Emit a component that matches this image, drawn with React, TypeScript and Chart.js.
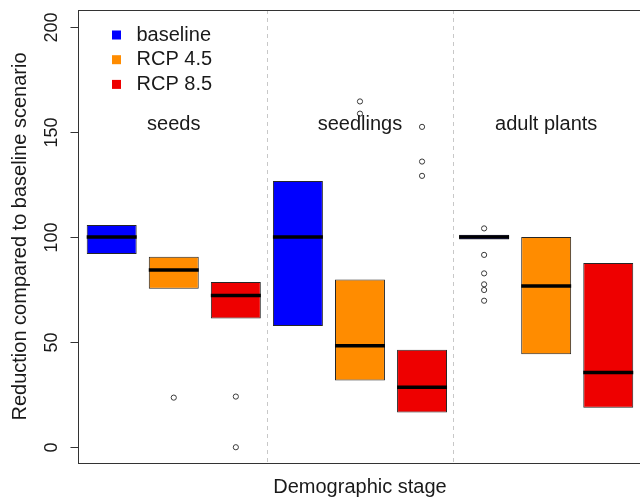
import React, { useEffect, useRef } from "react";
import { Chart, registerables } from "chart.js";

Chart.register(...registerables);

const stages = ["seeds", "seedlings", "adult plants"];
const scenarios = ["baseline", "RCP 4.5", "RCP 8.5"];
const scenarioColors = ["#0000ff", "#ff8c00", "#ee0000"];

// box positions (1..9) per scenario, one per stage
const posBaseline = [1, 4, 7];
const posRcp45 = [2, 5, 8];
const posRcp85 = [3, 6, 9];

// quartiles and medians per stage (seeds, seedlings, adult plants)
const q1Baseline = [91.9, 57.7, 98.8];
const medBaseline = [100, 100, 100];
const q3Baseline = [105.7, 126.7, 101.1];

const q1Rcp45 = [75.4, 31.7, 44.2];
const medRcp45 = [84.3, 48.3, 76.7];
const q3Rcp45 = [90.6, 79.8, 100];

const q1Rcp85 = [61.3, 16.5, 18.8];
const medRcp85 = [72.2, 28.5, 35.5];
const q3Rcp85 = [78.6, 46.4, 87.7];

// outliers per stage
const outBaseline = [[], [], [104.1, 91.5, 82.7, 77.5, 74.8, 69.7]];
const outRcp45 = [[23.6], [164.5, 158.7], []];
const outRcp85 = [[24.1, 0], [152.4, 135.9, 129.1], []];

const yTicks = [0, 50, 100, 150, 200];
const dividers = [3.5, 6.5];
const stageLabelPos = [2, 5, 8];
const stageLabelY = 151;
const xLimits = [0.449, 9.551];
const yLimits = [-7.5, 208];

const xTitle = "Demographic stage";
const yTitle = "Reduction compared to baseline scenario";

const FONT = '"Liberation Sans", Arial, Helvetica, sans-serif';

const groups = [
  { pos: posBaseline, q1: q1Baseline, med: medBaseline, q3: q3Baseline, out: outBaseline },
  { pos: posRcp45, q1: q1Rcp45, med: medRcp45, q3: q3Rcp45, out: outRcp45 },
  { pos: posRcp85, q1: q1Rcp85, med: medRcp85, q3: q3Rcp85, out: outRcp85 },
];

export default function App() {
  const ref = useRef<HTMLCanvasElement | null>(null);

  useEffect(() => {
    const canvas = ref.current;
    if (!canvas) return;

    const boxDatasets = groups.map((g, si) => ({
      type: "bar" as const,
      label: scenarios[si],
      data: g.pos.map((p, i) => ({ x: p, y: [g.q1[i], g.q3[i]] })),
      backgroundColor: scenarioColors[si],
      borderColor: "#262626",
      borderWidth: 1,
      borderSkipped: false,
      grouped: false,
      barPercentage: 1,
      categoryPercentage: 0.805,
      order: 2,
    }));

    const outlierDatasets = groups.map((g, si) => ({
      type: "scatter" as const,
      label: scenarios[si] + " outliers",
      data: g.pos.flatMap((p, i) => g.out[i].map((v) => ({ x: p, y: v }))),
      pointRadius: 2.6,
      pointBorderWidth: 1,
      pointBorderColor: "#3a3a3a",
      pointBackgroundColor: "rgba(0,0,0,0)",
      showLine: false,
      order: 1,
    }));

    const decor = {
      id: "rdecor",
      beforeDatasetsDraw(chart: any) {
        const { ctx, chartArea, scales } = chart;
        const xs = scales.x;
        ctx.save();
        ctx.strokeStyle = "#c8c8c8";
        ctx.lineWidth = 1;
        ctx.setLineDash([4, 4]);
        dividers.forEach((d) => {
          const px = Math.round(xs.getPixelForValue(d)) + 0.5;
          ctx.beginPath();
          ctx.moveTo(px, chartArea.top);
          ctx.lineTo(px, chartArea.bottom);
          ctx.stroke();
        });
        ctx.restore();
      },
      afterDatasetsDraw(chart: any) {
        const { ctx, chartArea, scales } = chart;
        const xs = scales.x;
        const ys = scales.y;
        ctx.save();

        // medians
        ctx.strokeStyle = "#000000";
        ctx.lineWidth = 3.5;
        ctx.setLineDash([]);
        groups.forEach((g, si) => {
          const meta = chart.getDatasetMeta(si);
          g.med.forEach((m, i) => {
            const el = meta.data[i];
            const py = ys.getPixelForValue(m);
            ctx.beginPath();
            ctx.moveTo(el.x - el.width / 2, py);
            ctx.lineTo(el.x + el.width / 2, py);
            ctx.stroke();
          });
        });

        // frame
        ctx.strokeStyle = "#333333";
        ctx.lineWidth = 1;
        const left = Math.round(xs.getPixelForValue(xLimits[0])) + 0.5;
        const right = xs.getPixelForValue(xLimits[1]);
        const top = Math.round(ys.getPixelForValue(yLimits[1])) + 0.5;
        const bottom = Math.round(ys.getPixelForValue(yLimits[0])) + 0.5;
        ctx.strokeRect(left, top, right - left, bottom - top);

        // y ticks and labels
        ctx.fillStyle = "#1a1a1a";
        ctx.font = `18px ${FONT}`;
        ctx.textAlign = "center";
        ctx.textBaseline = "middle";
        yTicks.forEach((t) => {
          const py = Math.round(ys.getPixelForValue(t)) + 0.5;
          ctx.beginPath();
          ctx.moveTo(left - 8, py);
          ctx.lineTo(left, py);
          ctx.stroke();
          ctx.save();
          ctx.translate(52, py);
          ctx.rotate(-Math.PI / 2);
          ctx.fillText(String(t), 0, 0);
          ctx.restore();
        });

        // axis titles
        ctx.font = `20px ${FONT}`;
        ctx.save();
        ctx.translate(20, (chartArea.top + chartArea.bottom) / 2);
        ctx.rotate(-Math.PI / 2);
        ctx.fillText(yTitle, 0, 0);
        ctx.restore();
        const xMid = xs.getPixelForValue((xLimits[0] + xLimits[1]) / 2);
        ctx.fillText(xTitle, xMid, 487);

        // stage labels
        ctx.textBaseline = "alphabetic";
        stages.forEach((s, i) => {
          ctx.fillText(s, xs.getPixelForValue(stageLabelPos[i]), ys.getPixelForValue(stageLabelY));
        });

        // legend
        ctx.textAlign = "left";
        scenarios.forEach((s, i) => {
          const base = 40.5 + i * 24.7;
          ctx.fillStyle = scenarioColors[i];
          ctx.fillRect(112, base - 10, 9, 9);
          ctx.fillStyle = "#1a1a1a";
          ctx.fillText(s, 136.5, base);
        });

        ctx.restore();
      },
    };

    const chart = new Chart(canvas, {
      type: "bar",
      data: { datasets: [...boxDatasets, ...outlierDatasets] as any },
      options: {
        animation: false,
        responsive: false,
        devicePixelRatio: 1,
        layout: { padding: { left: 77.5, top: 10, right: 0, bottom: 35 } },
        plugins: { legend: { display: false }, tooltip: { enabled: false } },
        scales: {
          x: {
            type: "linear",
            display: false,
            offset: false,
            min: xLimits[0],
            max: 9.431,
            ticks: { stepSize: 1, includeBounds: false },
          },
          y: {
            type: "linear",
            display: false,
            offset: false,
            min: yLimits[0],
            max: yLimits[1],
          },
        },
      },
      plugins: [decor],
    });

    return () => chart.destroy();
  }, []);

  return (
    <div style={{ position: "absolute", left: 0, top: 0, width: 640, height: 498, background: "#ffffff" }}>
      <canvas ref={ref} width={640} height={498} style={{ display: "block" }} />
    </div>
  );
}
